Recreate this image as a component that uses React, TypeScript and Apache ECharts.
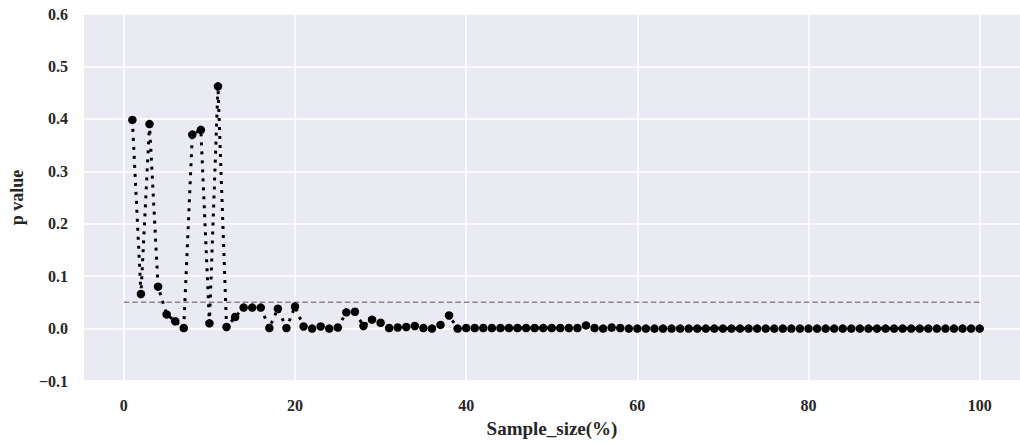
import React, { useEffect, useRef } from "react";
import * as echarts from "echarts";

const sampleSize: number[] = Array.from({ length: 100 }, (_, i) => i + 1);
const pValues: number[] = [
  0.398, 0.066, 0.39, 0.08, 0.027, 0.014, 0.001, 0.37, 0.379, 0.01,
  0.462, 0.003, 0.022, 0.04, 0.04, 0.04, 0.001, 0.038, 0.001, 0.042,
  0.004, 0.0, 0.004, 0.0, 0.002, 0.031, 0.032, 0.005, 0.017, 0.011,
  0.001, 0.002, 0.003, 0.005, 0.001, 0.0, 0.007, 0.025, 0.0, 0.001,
  0.001, 0.001, 0.001, 0.001, 0.001, 0.001, 0.001, 0.001, 0.001, 0.001,
  0.001, 0.001, 0.001, 0.006, 0.001, 0.0, 0.002, 0.001, 0.0, 0.0,
  0.0, 0.0, 0.0, 0.0, 0.0, 0.0, 0.0, 0.0, 0.0, 0.0,
  0.0, 0.0, 0.0, 0.0, 0.0, 0.0, 0.0, 0.0, 0.0, 0.0,
  0.0, 0.0, 0.0, 0.0, 0.0, 0.0, 0.0, 0.0, 0.0, 0.0,
  0.0, 0.0, 0.0, 0.0, 0.0, 0.0, 0.0, 0.0, 0.0, 0.0,
];
const threshold = 0.05;
const thresholdRange: number[] = [0, 100];
const xTicks: number[] = [0, 20, 40, 60, 80, 100];
const xAxisTitle = "Sample_size(%)";
const yAxisTitle = "p value";

const FONT = "'Liberation Serif', 'Times New Roman', serif";

export default function App() {
  const ref = useRef<HTMLDivElement>(null);
  useEffect(() => {
    document.body.style.margin = "0";
    const chart = echarts.init(ref.current!, null, { renderer: "svg" });
    const labelStyle = {
      fontFamily: FONT,
      fontWeight: "bold" as const,
      fontSize: 16,
      color: "#262626",
    };
    chart.setOption({
      animation: false,
      backgroundColor: "#ffffff",
      grid: {
        left: 80,
        right: 0,
        top: 14,
        bottom: 61,
        show: true,
        backgroundColor: "#EAEAF2",
        borderWidth: 0,
      },
      xAxis: {
        type: "value",
        min: -4.654,
        max: 104.71,
        axisLine: { show: false },
        axisTick: { show: false, customValues: xTicks },
        axisLabel: { ...labelStyle, margin: 16, customValues: xTicks },
        splitLine: { show: true, lineStyle: { color: "#ffffff", width: 1.5 } },
        name: xAxisTitle,
        nameLocation: "middle",
        nameGap: 38,
        nameTextStyle: {
          fontFamily: FONT,
          fontWeight: "bold",
          fontSize: 19,
          color: "#262626",
        },
      },
      yAxis: {
        type: "value",
        min: -0.1,
        max: 0.6,
        interval: 0.1,
        axisLine: { show: false },
        axisTick: { show: false },
        axisLabel: {
          ...labelStyle,
          margin: 16,
          formatter: (v: number) => {
            const s = (Math.round(v * 10) / 10).toFixed(1);
            return s.replace("-", "\u2212");
          },
        },
        splitLine: { show: true, lineStyle: { color: "#ffffff", width: 1.5 } },
        name: yAxisTitle,
        nameLocation: "middle",
        nameGap: 58,
        nameTextStyle: {
          fontFamily: FONT,
          fontWeight: "bold",
          fontSize: 18,
          color: "#262626",
        },
      },
      series: [
        {
          type: "line",
          data: thresholdRange.map((x) => [x, threshold]),
          symbol: "none",
          z: 1,
          lineStyle: { color: "#888888", width: 1.5, type: [5.5, 3] },
          silent: true,
        },
        {
          type: "line",
          data: sampleSize.map((x, i) => [x, pValues[i]]),
          symbol: "circle",
          symbolSize: 8.5,
          z: 2,
          itemStyle: { color: "#000000" },
          lineStyle: { color: "#000000", width: 3, type: [3, 6], cap: "butt" },
        },
      ],
    });
    return () => chart.dispose();
  }, []);
  return (
    <div
      ref={ref}
      style={{ position: "absolute", left: 0, top: 0, width: 1020, height: 443 }}
    />
  );
}
